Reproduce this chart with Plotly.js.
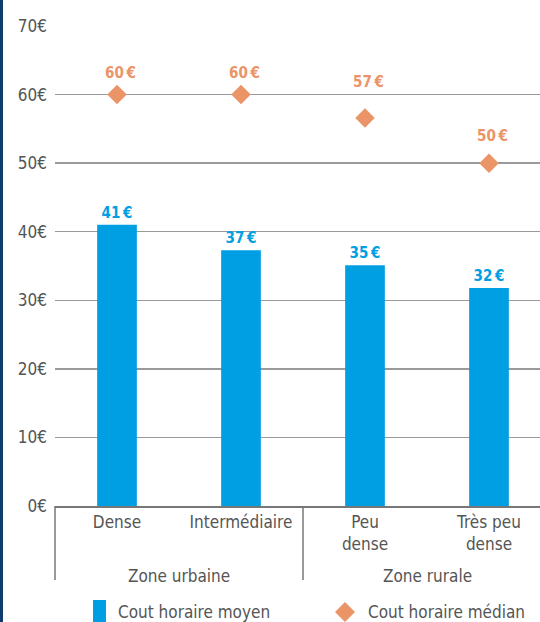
<!DOCTYPE html>
<html>
<head>
<meta charset="utf-8">
<script src="https://cdn.plot.ly/plotly-3.0.1.min.js"></script>
<style>
html,body{margin:0;padding:0;background:#fff;}
#chart{width:540px;height:622px;}
</style>
</head>
<body>
<div id="chart"></div>
<script>
// Data
var categories = ["Dense", "Intermédiaire", "Peu<br>dense", "Très peu<br>dense"];
var groups = ["Zone urbaine", "Zone rurale"];
var meanCost = [41.0, 37.3, 35.1, 31.8];
var meanLabels = ["41", "37", "35", "32"];
var medianCost = [60, 60, 56.6, 50];
var medianLabels = ["60", "60", "57", "50"];
var yTickVals = [0, 10, 20, 30, 40, 50, 60, 70];
var yTickText = ["0€", "10€", "20€", "30€", "40€", "50€", "60€", "70€"];
var seriesNames = ["Cout horaire moyen", "Cout horaire médian"];
// label offsets above the median diamonds (style, px)
var medianLabelShift = [22, 22, 36, 27];

var FONT = "'Liberation Sans Narrow', 'DejaVu Sans Condensed', 'Roboto', sans-serif";
var BLUE = "#009ee2";
var ORANGE = "#ea9467";
var GREY = "#555555";

var xIdx = categories.map(function(_, i){ return i; });

var W = 540, H = 622, ML = 55, MR = 0, MT = 26, MB = 116;
var PW = W - ML - MR, PH = H - MT - MB;
function px(x){ return (x - ML) / PW; }
function py(y){ return (H - MB - y) / PH; }

var traces = [
  {
    type: "bar",
    x: xIdx,
    y: meanCost,
    name: seriesNames[0],
    width: 0.32,
    marker: {color: BLUE},
    text: meanLabels.map(function(v){ return v + "\u2009€"; }),
    textposition: "outside",
    textfont: {family: FONT, size: 15, color: BLUE, weight: "bold"},
    cliponaxis: false,
    hoverinfo: "skip",
    showlegend: false
  },
  {
    type: "scatter",
    mode: "markers",
    x: xIdx,
    y: medianCost,
    name: seriesNames[1],
    marker: {symbol: "diamond", size: 15, color: ORANGE},
    cliponaxis: false,
    hoverinfo: "skip",
    showlegend: false
  }
];

var shapes = [
  {type: "rect", xref: "paper", yref: "paper", x0: px(0), x1: px(3), y0: py(H), y1: py(0),
   fillcolor: "#0c3d6b", line: {width: 0}, layer: "above"},
  {type: "line", xref: "paper", yref: "paper", x0: 0, x1: 0, y0: 0, y1: py(580),
   line: {color: "#777", width: 1.5}},
  {type: "line", xref: "x", yref: "paper", x0: 1.5, x1: 1.5, y0: 0, y1: py(580),
   line: {color: "#777", width: 1.5}},
  {type: "rect", xref: "paper", yref: "paper", x0: px(93), x1: px(106), y0: py(622), y1: py(600),
   fillcolor: BLUE, line: {width: 0}},
  {type: "path", xref: "paper", yref: "paper",
   path: "M " + px(345) + " " + py(602) + " L " + px(355) + " " + py(612) + " L " + px(345) + " " + py(622) + " L " + px(335) + " " + py(612) + " Z",
   fillcolor: ORANGE, line: {width: 0}}
];

var annotations = [
  {xref: "x", yref: "paper", x: 0.5, y: py(576), text: groups[0], showarrow: false,
   font: {family: FONT, size: 17, color: GREY}, yanchor: "middle"},
  {xref: "x", yref: "paper", x: 2.5, y: py(576), text: groups[1], showarrow: false,
   font: {family: FONT, size: 17, color: GREY}, yanchor: "middle"},
  {xref: "paper", yref: "paper", x: px(116), y: py(612), text: seriesNames[0], showarrow: false,
   xanchor: "left", yanchor: "middle", font: {family: FONT, size: 17, color: GREY}},
  {xref: "paper", yref: "paper", x: px(366), y: py(612), text: seriesNames[1], showarrow: false,
   xanchor: "left", yanchor: "middle", font: {family: FONT, size: 17, color: GREY}}
];
medianCost.forEach(function(v, i){
  annotations.push({
    xref: "x", yref: "y", x: xIdx[i], y: v, text: "<b>" + medianLabels[i] + "\u2009€</b>",
    showarrow: false, yanchor: "middle", yshift: medianLabelShift[i], xshift: 3,
    font: {family: FONT, size: 15, color: ORANGE}
  });
});

var layout = {
  width: W, height: H,
  margin: {l: ML, r: MR, t: MT, b: MB, pad: 0},
  paper_bgcolor: "#fff",
  plot_bgcolor: "#fff",
  font: {family: FONT, size: 17, color: GREY},
  showlegend: false,
  xaxis: {
    range: [-0.5, -0.5 + PW / 124],
    tickvals: xIdx,
    ticktext: categories,
    showgrid: false,
    zeroline: false,
    showline: true,
    linecolor: "#777",
    linewidth: 1.5,
    ticks: "",
    tickfont: {family: FONT, size: 17, color: GREY},
    fixedrange: true
  },
  yaxis: {
    range: [0, 70],
    tickvals: yTickVals,
    ticktext: yTickText,
    showgrid: true,
    gridcolor: "#9a9a9a",
    gridwidth: 1.5,
    zeroline: false,
    showline: false,
    ticks: "",
    ticklabelstandoff: 7,
    tickfont: {family: FONT, size: 17, color: GREY},
    fixedrange: true
  },
  shapes: shapes,
  annotations: annotations
};

Plotly.newPlot("chart", traces, layout, {displayModeBar: false, staticPlot: true});
</script>
</body>
</html>
